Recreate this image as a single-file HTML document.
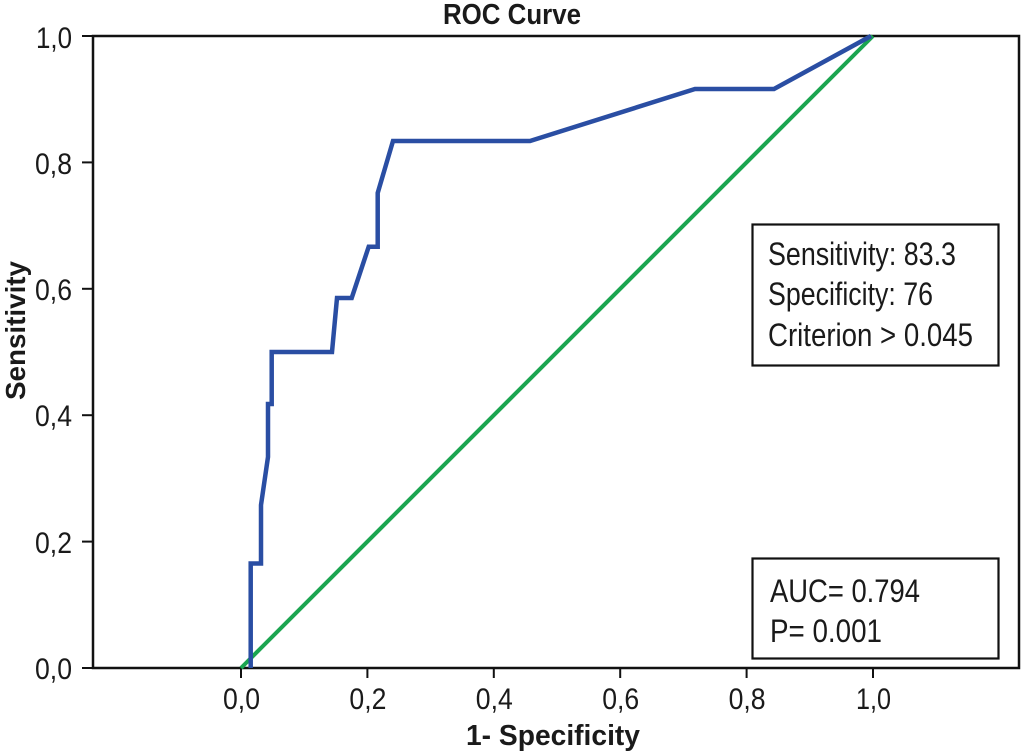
<!DOCTYPE html>
<html>
<head>
<meta charset="utf-8">
<style>
html,body{margin:0;padding:0;background:#fff;}
svg{display:block;}
text{font-family:"Liberation Sans",sans-serif;fill:#1a1a1a;}
</style>
</head>
<body>
<svg width="1024" height="753" viewBox="0 0 1024 753" xmlns="http://www.w3.org/2000/svg">
  <rect x="0" y="0" width="1024" height="753" fill="#fff"/>
  <!-- Title -->
  <text x="443" y="24" font-size="29" font-weight="bold" textLength="138" lengthAdjust="spacingAndGlyphs">ROC Curve</text>

  <!-- Plot frame -->
  <rect x="93" y="36" width="926" height="632" fill="none" stroke="#111" stroke-width="2.5"/>

  <!-- Y ticks -->
  <g stroke="#111" stroke-width="2">
    <line x1="82" y1="36" x2="93" y2="36"/>
    <line x1="82" y1="162.4" x2="93" y2="162.4"/>
    <line x1="82" y1="288.8" x2="93" y2="288.8"/>
    <line x1="82" y1="415.2" x2="93" y2="415.2"/>
    <line x1="82" y1="541.6" x2="93" y2="541.6"/>
    <line x1="82" y1="668" x2="93" y2="668"/>
  </g>
  <g font-size="30" text-anchor="end">
    <text x="72" y="48" textLength="36" lengthAdjust="spacingAndGlyphs">1,0</text>
    <text x="72" y="174" textLength="37" lengthAdjust="spacingAndGlyphs">0,8</text>
    <text x="72" y="300" textLength="37" lengthAdjust="spacingAndGlyphs">0,6</text>
    <text x="72" y="426" textLength="37" lengthAdjust="spacingAndGlyphs">0,4</text>
    <text x="72" y="553" textLength="37" lengthAdjust="spacingAndGlyphs">0,2</text>
    <text x="72" y="679" textLength="37" lengthAdjust="spacingAndGlyphs">0,0</text>
  </g>

  <!-- X ticks -->
  <g stroke="#111" stroke-width="2">
    <line x1="241" y1="668" x2="241" y2="678"/>
    <line x1="367.4" y1="668" x2="367.4" y2="678"/>
    <line x1="493.8" y1="668" x2="493.8" y2="678"/>
    <line x1="620.2" y1="668" x2="620.2" y2="678"/>
    <line x1="746.6" y1="668" x2="746.6" y2="678"/>
    <line x1="873" y1="668" x2="873" y2="678"/>
  </g>
  <g font-size="30">
    <text x="223" y="709" textLength="37" lengthAdjust="spacingAndGlyphs">0,0</text>
    <text x="349.4" y="709" textLength="37" lengthAdjust="spacingAndGlyphs">0,2</text>
    <text x="475.8" y="709" textLength="37" lengthAdjust="spacingAndGlyphs">0,4</text>
    <text x="602.2" y="709" textLength="37" lengthAdjust="spacingAndGlyphs">0,6</text>
    <text x="728.6" y="709" textLength="37" lengthAdjust="spacingAndGlyphs">0,8</text>
    <text x="856" y="709" textLength="35" lengthAdjust="spacingAndGlyphs">1,0</text>
  </g>

  <!-- Axis titles -->
  <text x="466" y="745" font-size="29" font-weight="bold" textLength="174" lengthAdjust="spacingAndGlyphs">1- Specificity</text>
  <text transform="translate(25,400) rotate(-90)" x="0" y="0" font-size="28" font-weight="bold" textLength="139" lengthAdjust="spacingAndGlyphs">Sensitivity</text>

  <!-- Reference diagonal -->
  <line x1="241" y1="668" x2="873" y2="36" stroke="#1ba550" stroke-width="4"/>

  <!-- ROC curve -->
  <polyline fill="none" stroke="#2a4ea3" stroke-width="4.5" stroke-linejoin="miter"
    points="250.7,668 250.7,563.5 261,563.5 261,505 268,457 268,404 271.7,404 271.7,352 332,352 337,298 351.7,298 368.7,246.7 377.7,246.7 377.7,193 393,141 530,141 695,89 774,89 871,36"/>

  <!-- Box 1 -->
  <rect x="752.5" y="224.5" width="246" height="141" fill="#fff" stroke="#111" stroke-width="2.2"/>
  <g font-size="32.5">
    <text x="768" y="265" textLength="188" lengthAdjust="spacingAndGlyphs">Sensitivity: 83.3</text>
    <text x="768" y="305" textLength="165" lengthAdjust="spacingAndGlyphs">Specificity: 76</text>
    <text x="768" y="346" textLength="205" lengthAdjust="spacingAndGlyphs">Criterion &gt; 0.045</text>
  </g>

  <!-- Box 2 -->
  <rect x="752.5" y="558.5" width="246" height="100" fill="#fff" stroke="#111" stroke-width="2.2"/>
  <g font-size="32.5">
    <text x="770" y="602" textLength="150" lengthAdjust="spacingAndGlyphs">AUC= 0.794</text>
    <text x="770" y="642" textLength="112" lengthAdjust="spacingAndGlyphs">P= 0.001</text>
  </g>
</svg>
</body>
</html>
